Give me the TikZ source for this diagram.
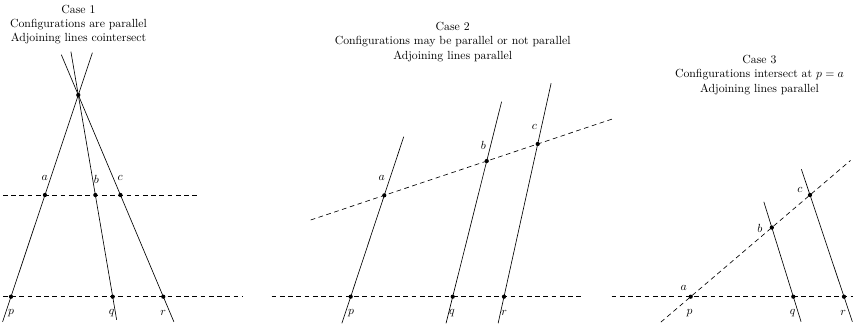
\documentclass[tikz,border=0pt]{standalone}
\usepackage{amsmath}
\usepackage{tikz}
\usetikzlibrary{calc}

\begin{document}
\begin{tikzpicture}[
    x=0.85pt, y=-0.85pt,
    dot/.style={circle, fill=black, inner sep=0pt, minimum size=3.6pt},
    lbl/.style={inner sep=0pt},
    title/.style={align=center, anchor=north, inner sep=0pt},
    confline/.style={line width=0.55pt, dash pattern=on 4pt off 3pt},
    adjline/.style={line width=0.55pt}
]
\useasboundingbox (0,0) rectangle (853,325);

% Case 1
\node[title] (t1) at (78.5,4.7) {Case 1\\Configurations are parallel\\Adjoining lines cointersect};
\node[dot] (o1) at (78.3,95) {};
\node[dot] (p1) at (11,296.7) {};
\node[dot] (q1) at (112.7,296.7) {};
\node[dot] (r1) at (163.3,296.7) {};
\node[dot] (a1) at ($(o1)!0.4958!(p1)$) {};
\node[dot] (b1) at ($(o1)!0.4958!(q1)$) {};
\node[dot] (c1) at ($(o1)!0.4958!(r1)$) {};
\coordinate (u1l) at (3,195);
\coordinate (u1r) at (199,195);
\coordinate (d1l) at (3,296.7);
\coordinate (d1r) at (242,296.7);
\draw[confline] (u1l) -- (u1r);
\draw[confline] (d1l) -- (d1r);
\draw[adjline] ($(o1)!-0.21!(p1)$) -- ($(o1)!1.125!(p1)$);
\draw[adjline] ($(o1)!-0.215!(q1)$) -- ($(o1)!1.115!(q1)$);
\draw[adjline] ($(o1)!-0.20!(r1)$) -- ($(o1)!1.125!(r1)$);
\node[lbl] (la1) at ($(a1)+(-0.3,-17)$) {$a$};
\node[lbl] (lb1) at ($(b1)+(1,-16)$) {$b$};
\node[lbl] (lc1) at ($(c1)+(-0.3,-17.5)$) {$c$};
\node[lbl] (lp1) at ($(p1)+(0,16.5)$) {$p$};
\node[lbl] (lq1) at ($(q1)+(-1,16.5)$) {$q$};
\node[lbl] (lr1) at ($(r1)+(0,16.5)$) {$r$};

% Case 2
\node[title] (t2) at (452.7,22.3) {Case 2\\Configurations may be parallel or not parallel\\Adjoining lines parallel};
\coordinate (u2l) at (310.7,220);
\coordinate (u2r) at (612.3,119);
\coordinate (d2l) at (271.7,296.7);
\coordinate (d2r) at (582.3,296.7);
\node[dot] (a2) at ($(u2l)!0.244!(u2r)$) {};
\node[dot] (b2) at ($(u2l)!0.5836!(u2r)$) {};
\node[dot] (c2) at ($(u2l)!0.7527!(u2r)$) {};
\node[dot] (p2) at (350.7,296.7) {};
\node[dot] (q2) at (452.7,296.7) {};
\node[dot] (r2) at (504,296.7) {};
\draw[confline] (u2l) -- (u2r);
\draw[confline] (d2l) -- (d2r);
\draw[adjline] ($(p2)!-0.263!(a2)$) -- ($(p2)!1.579!(a2)$);
\draw[adjline] ($(q2)!-0.196!(b2)$) -- ($(q2)!1.438!(b2)$);
\draw[adjline] ($(r2)!-0.174!(c2)$) -- ($(r2)!1.3975!(c2)$);
\node[lbl] (la2) at ($(a2)+(-2.6,-17)$) {$a$};
\node[lbl] (lb2) at ($(b2)+(-3.4,-15.5)$) {$b$};
\node[lbl] (lc2) at ($(c2)+(-3.4,-16.7)$) {$c$};
\node[lbl] (lp2) at ($(p2)+(0.5,16.5)$) {$p$};
\node[lbl] (lq2) at ($(q2)+(-0.7,16.5)$) {$q$};
\node[lbl] (lr2) at ($(r2)+(0.3,16.5)$) {$r$};

% Case 3
\node[title] (t3) at (759.5,55.3) {Case 3\\Configurations intersect at $p=a$\\Adjoining lines parallel};
\node[dot] (a3) at (690.7,296.7) {};
\node[dot] (c3) at (810,195) {};
\node[dot] (b3) at ($(a3)!0.68!(c3)$) {};
\node[dot] (q3) at (793.3,296.7) {};
\node[dot] (r3) at (844,296.7) {};
\coordinate (d3l) at (611.7,296.7);
\coordinate (d3r) at (853,296.7);
\draw[confline] (d3l) -- (d3r);
\draw[confline] ($(a3)!-0.25!(c3)$) -- ($(a3)!1.34!(c3)$);
\draw[adjline] ($(q3)!-0.361!(b3)$) -- ($(q3)!1.373!(b3)$);
\draw[adjline] ($(r3)!-0.246!(c3)$) -- ($(r3)!1.253!(c3)$);
\node[lbl] (la3) at ($(a3)+(-7,-8.4)$) {$a$};
\node[lbl] (lp3) at ($(a3)+(-1,16.6)$) {$p$};
\node[lbl] (lb3) at ($(b3)+(-12,1)$) {$b$};
\node[lbl] (lc3) at ($(c3)+(-10,-5)$) {$c$};
\node[lbl] (lq3) at ($(q3)+(-0.6,16.6)$) {$q$};
\node[lbl] (lr3) at ($(r3)+(-0.7,16.6)$) {$r$};
\end{tikzpicture}
\end{document}
